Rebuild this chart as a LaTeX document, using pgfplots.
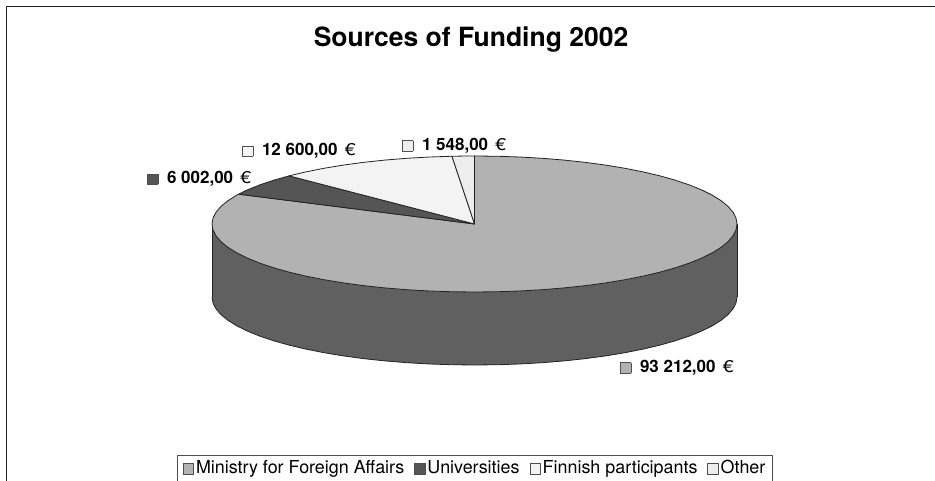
\documentclass[border=0pt]{standalone}
\usepackage{pgfplots}
\pgfplotsset{compat=1.18}
\usepackage{fontspec}
\setmainfont{TeX Gyre Heros}
\definecolor{ministry}{HTML}{B2B2B2}
\definecolor{ministryside}{HTML}{606060}
\definecolor{universities}{HTML}{555555}
\definecolor{finnish}{HTML}{F3F3F3}
\definecolor{other}{HTML}{EDEDED}
\definecolor{edge}{HTML}{222222}
% small colour key set in front of a value label or legend name
\newcommand{\keysq}[1]{{\setlength{\fboxsep}{0pt}\setlength{\fboxrule}{0.9pt}\fcolorbox{edge!80}{#1}{\rule{0pt}{9.4pt}\rule{9.4pt}{0pt}}}}
\newcommand{\valuelabel}[3]{\node[anchor=base west,inner sep=0pt,font=\fontsize{17}{18}\selectfont] at (#1) {\keysq{#2}\hspace{8.6pt}\textbf{#3}\hspace{2.5pt} \scalebox{1.15}[1]{€}};}
\begin{document}
\begin{tikzpicture}
\useasboundingbox (0,0) rectangle (935pt,481pt);
\begin{axis}[
  at={(0,0)}, anchor=south west,
  scale only axis, width=935pt, height=481pt,
  xmin=-1.80762, xmax=1.75429, ymin=-3.77941, ymax=3.29412,
  hide axis, clip=false,
  legend columns=-1,
  legend cell align=left,
  legend style={
    at={(177pt,26pt)}, anchor=north west,
    draw=edge!80, line width=0.8pt, fill=white,
    font=\fontsize{17.9}{20}\selectfont,
    inner xsep=5.4pt, inner ysep=2pt,
    nodes={text depth=14pt, inner ysep=3pt, inner xsep=2pt},
    /tikz/every even column/.append style={column sep=8pt},
  },
  legend image code/.code={\draw[#1,line width=0.8pt] (0pt,0pt) rectangle (10.4pt,10.4pt);},
  slice/.style={draw=edge, line width=0.8pt, line join=round, forget plot},
]
% underside of the disc: lower half of the rim, dropped by the disc's depth
\addplot[fill=ministryside, draw=edge, line width=0.8pt, forget plot, data cs=polar, yshift=-73pt]
  coordinates {(180,1)(185,1)(190,1)(195,1)(200,1)(205,1)(210,1)(215,1)(220,1)(225,1)(230,1)(235,1)
  (240,1)(245,1)(250,1)(255,1)(260,1)(265,1)(270,1)(275,1)(280,1)(285,1)(290,1)(295,1)(300,1)(305,1)
  (310,1)(315,1)(320,1)(325,1)(330,1)(335,1)(340,1)(345,1)(350,1)(355,1)(360,1)};
% wall between the two rims
\addplot[fill=ministryside, draw=none, forget plot]
  coordinates {(-1,0)(1,0)(1,-1.0735)(-1,-1.0735)} --cycle;
\addplot[draw=edge, line width=0.8pt, forget plot] coordinates {(-1,0)(-1,-1.0735)};
\addplot[draw=edge, line width=0.8pt, forget plot] coordinates {(1,0)(1,-1.0735)};

% top face; angles are counter-clockwise from the x axis, slices run clockwise from 12 o'clock
% Ministry for Foreign Affairs 93 212,00
\addplot[slice, fill=ministry, data cs=polar]
  coordinates {(0,0)(90,1)(85,1)(80,1)(75,1)(70,1)(65,1)(60,1)(55,1)(50,1)(45,1)(40,1)(35,1)(30,1)
  (25,1)(20,1)(15,1)(10,1)(5,1)(0,1)(-5,1)(-10,1)(-15,1)(-20,1)(-25,1)(-30,1)(-35,1)(-40,1)(-45,1)
  (-50,1)(-55,1)(-60,1)(-65,1)(-70,1)(-75,1)(-80,1)(-85,1)(-90,1)(-95,1)(-100,1)(-105,1)(-110,1)
  (-115,1)(-120,1)(-125,1)(-130,1)(-135,1)(-140,1)(-145,1)(-150,1)(-155,1)(-160,1)(-165,1)(-170,1)
  (-175,1)(-180,1)(-185,1)(-190,1)(-195,1)(-200,1)(-205,1)(-206,1)(0,0)};
% Universities 6 002,00
\addplot[slice, fill=universities, data cs=polar]
  coordinates {(0,0)(154,1)(150,1)(145,1)(140,1)(134.94,1)(0,0)};
% Finnish participants 12 600,00
\addplot[slice, fill=finnish, data cs=polar]
  coordinates {(0,0)(134.94,1)(130,1)(125,1)(120,1)(115,1)(110,1)(105,1)(100,1)(94.93,1)(0,0)};
% Other 1 548,00
\addplot[slice, fill=other, data cs=polar]
  coordinates {(0,0)(94.93,1)(92,1)(90,1)(0,0)};

\addlegendimage{fill=ministry, draw=edge!80}
\addlegendentry{Ministry for Foreign Affairs}
\addlegendimage{fill=universities, draw=edge!80}
\addlegendentry{Universities}
\addlegendimage{fill=finnish, draw=edge!80}
\addlegendentry{Finnish participants}
\addlegendimage{fill=other, draw=edge!80}
\addlegendentry{Other}
\end{axis}

% chart frame, open at the right and the bottom
\draw[edge, line width=1.4pt] (6.5pt,0pt) -- (6.5pt,474.7pt) -- (935pt,474.7pt);

\node[anchor=base, inner sep=0pt, font=\fontsize{26.5}{30}\selectfont\bfseries] at (471pt,434.6pt) {Sources of Funding 2002};

\valuelabel{620pt,108.3pt}{ministry}{93 212,00}
\valuelabel{402pt,330.3pt}{other}{1 548,00}
\valuelabel{242pt,325pt}{finnish}{12 600,00}
\valuelabel{147pt,297pt}{universities}{6 002,00}
\end{tikzpicture}
\end{document}
